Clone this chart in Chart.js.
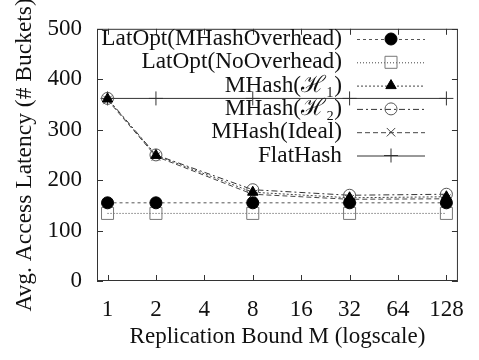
<!DOCTYPE html>
<html>
<head>
<meta charset="utf-8">
<script src="https://cdn.jsdelivr.net/npm/chart.js@4"></script>
<style>
  html, body { margin: 0; padding: 0; background: #fff; }
  #wrap { width: 479px; height: 360px; }
</style>
</head>
<body>
<div id="wrap"><canvas id="latency"></canvas></div>
<script>
// valores
const replicationBounds = [1, 2, 8, 32, 128];
const xTickValues = [1, 2, 4, 8, 16, 32, 64, 128];
const yTickValues = [0, 100, 200, 300, 400, 500];

const latOptMHashOverhead = [155, 155, 155, 155, 155];
const latOptNoOverhead = [134, 134, 134, 134, 134];
const mhashH1 = [361, 249, 176, 165, 167];
const mhashH2 = [362, 250, 181, 170, 172];
const mhashIdeal = [359, 247, 172, 162, 163];
const flatHash = [362, 362, 362, 362, 362];

const serif = '"Liberation Serif", "DejaVu Serif", serif';

function pts(values) {
    return replicationBounds.map((x, i) => ({ x: x, y: values[i] }));
}

const series = [
    { label: 'LatOpt(MHashOverhead)', data: latOptMHashOverhead, dash: [3, 3], color: '#555',
      pointStyle: 'circle', radius: 6, fill: '#000', stroke: '#000' },
    { label: 'LatOpt(NoOverhead)', data: latOptNoOverhead, dash: [1, 2], color: '#444',
      pointStyle: 'rect', radius: 8.5, fill: 'rgba(0,0,0,0)', stroke: '#777' },
    { label: 'MHash(\u210B\u2081)', data: mhashH1, dash: [2, 2], color: '#444',
      pointStyle: 'triangle', radius: 6, fill: '#000', stroke: '#000' },
    { label: 'MHash(\u210B\u2082)', data: mhashH2, dash: [6, 3, 2, 3], color: '#333',
      pointStyle: 'circle', radius: 6, fill: 'rgba(0,0,0,0)', stroke: '#555' },
    { label: 'MHash(Ideal)', data: mhashIdeal, dash: [5, 3], color: '#444',
      pointStyle: 'crossRot', radius: 6, fill: 'rgba(0,0,0,0)', stroke: '#444' },
    { label: 'FlatHash', data: flatHash, dash: [], color: '#333',
      pointStyle: 'cross', radius: 7, fill: 'rgba(0,0,0,0)', stroke: '#333' }
];

// caixa, marcas internas e legenda estilo gnuplot
const gnuplotFrame = {
    id: 'gnuplotFrame',
    afterDraw(chart) {
        const ctx = chart.ctx;
        const a = chart.chartArea;
        const xs = chart.scales.x, ys = chart.scales.y;
        ctx.save();
        ctx.strokeStyle = '#333';
        ctx.lineWidth = 1;
        ctx.setLineDash([]);
        ctx.strokeRect(a.left + 0.5, a.top + 0.5, a.right - a.left - 1, a.bottom - a.top - 1);
        ctx.beginPath();
        xTickValues.forEach(v => {
            const px = Math.round(xs.getPixelForValue(v)) + 0.5;
            ctx.moveTo(px, a.bottom); ctx.lineTo(px, a.bottom - 6);
            ctx.moveTo(px, a.top); ctx.lineTo(px, a.top + 6);
        });
        yTickValues.forEach(v => {
            const py = Math.round(ys.getPixelForValue(v)) + 0.5;
            ctx.moveTo(a.left, py); ctx.lineTo(a.left + 6, py);
            ctx.moveTo(a.right, py); ctx.lineTo(a.right - 6, py);
        });
        ctx.stroke();

        // legenda
        ctx.font = '23.3px ' + serif;
        ctx.fillStyle = '#111';
        ctx.textAlign = 'right';
        ctx.textBaseline = 'middle';
        series.forEach((s, i) => {
            const y = 39 + i * 23.3;
            ctx.fillText(s.label, 342, y);
            ctx.save();
            ctx.strokeStyle = s.color;
            ctx.setLineDash(s.dash);
            ctx.beginPath();
            ctx.moveTo(357, y + 0.5); ctx.lineTo(425, y + 0.5);
            ctx.stroke();
            ctx.restore();
            ctx.save();
            ctx.setLineDash([]);
            ctx.fillStyle = s.fill;
            ctx.strokeStyle = s.stroke;
            ctx.lineWidth = 1;
            Chart.helpers.drawPoint(ctx, { pointStyle: s.pointStyle, radius: s.radius, borderWidth: 1 }, 391, y);
            ctx.restore();
        });
        ctx.restore();
    }
};

document.addEventListener('DOMContentLoaded', () => {
    const ctx = document.getElementById('latency').getContext('2d');
    new Chart(ctx, {
        type: 'line',
        data: {
            datasets: series.map(s => ({
                label: s.label,
                data: pts(s.data),
                borderColor: s.color,
                borderWidth: 1,
                borderDash: s.dash,
                pointStyle: s.pointStyle,
                pointRadius: s.radius,
                pointBackgroundColor: s.fill,
                pointBorderColor: s.stroke,
                pointBorderWidth: 1,
                tension: 0,
                fill: false
            }))
        },
        options: {
            responsive: true,
            maintainAspectRatio: false,
            animation: false,
            layout: { padding: { top: 25, right: 11, bottom: 0, left: 0 } },
            plugins: {
                legend: { display: false },
                tooltip: { enabled: false }
            },
            scales: {
                x: {
                    type: 'logarithmic',
                    min: 0.86,
                    max: 151,
                    afterBuildTicks: scale => {
                        scale.ticks = xTickValues.map(v => ({ value: v }));
                    },
                    afterFit: scale => { scale.height = 79; },
                    grid: { display: false, drawTicks: false },
                    border: { display: false },
                    ticks: {
                        color: '#111',
                        font: { family: serif, size: 23 },
                        padding: 15,
                        maxRotation: 0,
                        autoSkip: false,
                        callback: v => String(v)
                    },
                    title: {
                        display: true,
                        text: 'Replication Bound M (logscale)',
                        color: '#111',
                        font: { family: serif, size: 23 },
                        padding: { top: 0, bottom: 9 }
                    }
                },
                y: {
                    min: 0,
                    max: 500,
                    afterBuildTicks: scale => {
                        scale.ticks = yTickValues.map(v => ({ value: v }));
                    },
                    afterFit: scale => { scale.width = 97; },
                    grid: { display: false, drawTicks: false },
                    border: { display: false },
                    ticks: {
                        color: '#111',
                        font: { family: serif, size: 23 },
                        padding: 15
                    },
                    title: {
                        display: true,
                        text: 'Avg. Access Latency (# Buckets)',
                        color: '#111',
                        font: { family: serif, size: 23.5 },
                        padding: { top: 11, bottom: 0 }
                    }
                }
            }
        },
        plugins: [gnuplotFrame]
    });
});
</script>
</body>
</html>
